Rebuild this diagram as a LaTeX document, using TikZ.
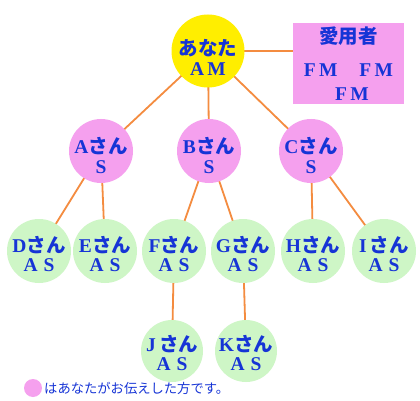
\documentclass[tikz,border=0pt]{standalone}
\usepackage{fontspec}
\setmainfont{Liberation Serif}
\newfontfamily\jp{Noto Sans CJK JP}
\definecolor{lineorange}{RGB}{244,140,64}
\definecolor{pinkfill}{RGB}{245,160,238}
\definecolor{greenfill}{RGB}{206,246,198}
\definecolor{yellowfill}{RGB}{255,238,0}
\definecolor{txtblue}{RGB}{22,52,214}
\tikzset{
  conn/.style={draw=lineorange, line width=1.8pt},
  person/.style={circle, inner sep=0pt},
  pinkc/.style={person, fill=pinkfill, minimum size=64pt},
  greenc/.style={person, fill=greenfill, minimum size=64pt},
  topc/.style={person, fill=yellowfill, minimum size=73pt},
  ptext/.style={inner sep=0pt, align=center, text=txtblue,
    font=\fontsize{19.5}{20}\selectfont\bfseries},
  gtext/.style={ptext, font=\fontsize{19.5}{18.5}\selectfont\bfseries},
  box/.style={rectangle, fill=pinkfill, inner sep=0pt, minimum width=111pt, minimum height=81pt},
  boxtext/.style={text=txtblue, inner sep=0pt, font=\fontsize{19.5}{20}\selectfont\bfseries},
}
\newcommand{\san}{{\jp\bfseries さん}}
\begin{document}
\begin{tikzpicture}[x=1pt,y=-1pt]
\useasboundingbox[fill=white] (0,0) rectangle (420,401);
% connector coordinates (drawn first, under the nodes)
\coordinate (top) at (208,51);
\coordinate (a) at (101,151);
\coordinate (b) at (209,151);
\coordinate (c) at (311,151);
\coordinate (d) at (39,251);
\coordinate (e) at (105,251);
\coordinate (f) at (174,251);
\coordinate (g) at (243,251);
\coordinate (h) at (313,251);
\coordinate (i) at (384,251);
\coordinate (j) at (172,351);
\coordinate (k) at (246,351);
\coordinate (boxc) at (348.5,63.5);
\draw[conn] (top) -- (a);
\draw[conn] (top) -- (b);
\draw[conn] (top) -- (c);
\draw[conn] (top) -- (top -| boxc);
\draw[conn] (a) -- (d);
\draw[conn] (a) -- (e);
\draw[conn] (b) -- (f);
\draw[conn] (b) -- (g);
\draw[conn] (c) -- (h);
\draw[conn] (c) -- (i);
\draw[conn] (f) -- (j);
\draw[conn] (g) -- (k);
% box
\node[box] (bx) at (boxc) {};
\node[boxtext, font=\fontsize{19.5}{20}\selectfont\jp\bfseries] (aiyo) at (348.5,36) {愛用者};
\node[boxtext] (fm1) at (348.5,70) {F\,M\hspace{22pt}F\,M};
\node[boxtext] (fm2) at (352,94) {F\,M};
% circles
\node[topc] (nTop) at (top) {};
\node[pinkc] (nA) at (a) {};
\node[pinkc] (nB) at (b) {};
\node[pinkc] (nC) at (c) {};
\node[greenc] (nD) at (d) {};
\node[greenc] (nE) at (e) {};
\node[greenc] (nF) at (f) {};
\node[greenc] (nG) at (g) {};
\node[greenc] (nH) at (h) {};
\node[greenc] (nI) at (i) {};
\node[greenc, minimum size=62pt] (nJ) at (j) {};
\node[greenc, minimum size=62pt] (nK) at (k) {};
% texts
\node[ptext] (tTop) at ([yshift=-6pt]nTop.center) {{\jp\bfseries あなた}\\A\,M};
\node[ptext] (tA) at ([yshift=-5pt]nA.center) {A\san\\S};
\node[ptext] (tB) at ([yshift=-5pt]nB.center) {B\san\\S};
\node[ptext] (tC) at ([yshift=-5pt]nC.center) {C\san\\S};
\node[gtext] (tD) at ([yshift=-3pt]nD.center) {D\san\\A\hspace{6pt}S};
\node[gtext] (tE) at ([yshift=-3pt]nE.center) {E\san\\A\hspace{6pt}S};
\node[gtext] (tF) at ([yshift=-3pt]nF.center) {F\san\\A\hspace{6pt}S};
\node[gtext] (tG) at ([yshift=-3pt]nG.center) {G\san\\A\hspace{6pt}S};
\node[gtext] (tH) at ([yshift=-3pt]nH.center) {H\san\\A\hspace{6pt}S};
\node[gtext] (tI) at ([yshift=-3pt]nI.center) {I\,\san\\A\hspace{6pt}S};
\node[gtext] (tJ) at ([yshift=-2pt]nJ.center) {J\,\san\\A\hspace{6pt}S};
\node[gtext] (tK) at ([yshift=-2pt]nK.center) {K\san\\A\hspace{6pt}S};
% legend
\node[circle, fill=pinkfill, minimum size=18pt, inner sep=0pt] (leg) at (33,388) {};
\node[anchor=west, text=txtblue, inner sep=0pt, font=\fontsize{13.3}{14}\selectfont\jp] (legtxt) at (44,388) {はあなたがお伝えした方です。};
\end{tikzpicture}
\end{document}
